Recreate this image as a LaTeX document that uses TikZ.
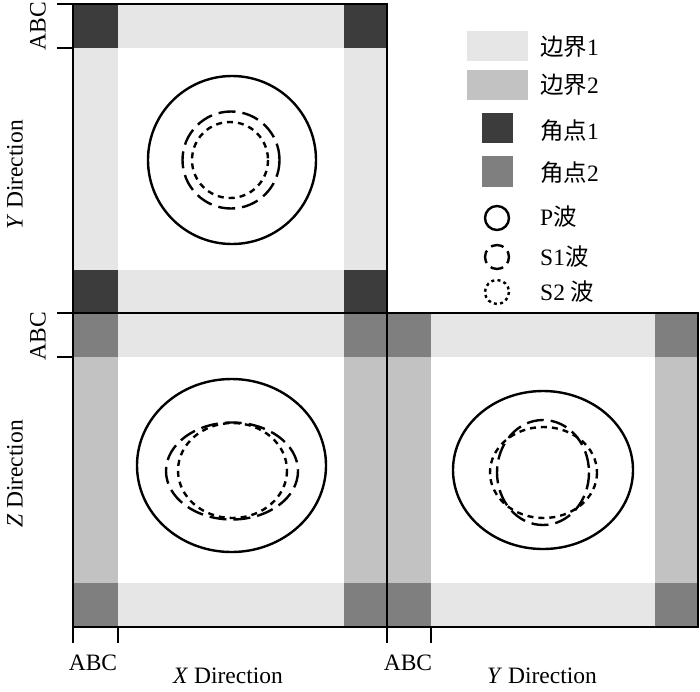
\documentclass[tikz,border=0pt]{standalone}
\usepackage{fontspec}
\setmainfont{Liberation Serif}
\newfontfamily\cjk{Noto Sans CJK SC}
\definecolor{bone}{HTML}{E6E6E6}
\definecolor{btwo}{HTML}{C2C2C2}
\definecolor{cone}{HTML}{3C3C3C}
\definecolor{ctwo}{HTML}{7F7F7F}
\begin{document}
\begin{tikzpicture}[x=1pt,y=-1pt,
  lbl/.style={font=\fontsize{23.5}{26}\selectfont, inner sep=0pt},
  frame/.style={draw=black, line width=2pt},
  tick/.style={draw=black, line width=2pt},
  pwave/.style={draw=black, line width=2.4pt},
  sone/.style={draw=black, line width=2.4pt, dash pattern=on 17pt off 7pt},
  stwo/.style={draw=black, line width=2.4pt, dash pattern=on 6pt off 5pt},
  sonel/.style={draw=black, line width=2.4pt, dash pattern=on 13pt off 5.85pt, dash phase=6.5pt},
  stwol/.style={draw=black, line width=2.4pt, dash pattern=on 3pt off 3.3pt}]
\useasboundingbox (0,0) rectangle (700,691);

% ---------- top panel (XY) ----------
\fill[white] (73,4) rectangle (387,313);
\fill[bone] (73,4) rectangle (387,48);
\fill[bone] (73,270) rectangle (387,313);
\fill[bone] (73,4) rectangle (118,313);
\fill[bone] (344,4) rectangle (387,313);
\fill[cone] (73,4) rectangle (118,48);
\fill[cone] (344,4) rectangle (387,48);
\fill[cone] (73,270) rectangle (118,313);
\fill[cone] (344,270) rectangle (387,313);
\draw[frame] (73,4) rectangle (387,313);

% ---------- bottom-left panel (XZ) ----------
\fill[white] (73,313) rectangle (387,627);
\fill[btwo] (73,313) rectangle (118,627);
\fill[btwo] (344,313) rectangle (387,627);
\fill[bone] (73,313) rectangle (387,357);
\fill[bone] (73,583) rectangle (387,627);
\fill[ctwo] (73,313) rectangle (118,357);
\fill[ctwo] (344,313) rectangle (387,357);
\fill[ctwo] (73,583) rectangle (118,627);
\fill[ctwo] (344,583) rectangle (387,627);
\draw[frame] (73,313) rectangle (387,627);

% ---------- bottom-right panel (YZ) ----------
\fill[white] (387,313) rectangle (698,627);
\fill[btwo] (387,313) rectangle (431,627);
\fill[btwo] (655,313) rectangle (698,627);
\fill[bone] (387,313) rectangle (698,357);
\fill[bone] (387,583) rectangle (698,627);
\fill[ctwo] (387,313) rectangle (431,357);
\fill[ctwo] (655,313) rectangle (698,357);
\fill[ctwo] (387,583) rectangle (431,627);
\fill[ctwo] (655,583) rectangle (698,627);
\draw[frame] (387,313) rectangle (698,627);

% ---------- wavefronts ----------
\draw[pwave] (232,160) circle (84);
\draw[sone] (231,160) circle (48.5);
\draw[stwo] (230,160) circle (38);

\draw[pwave] (231.5,465.5) ellipse (94.5 and 86.5);
\draw[sone] (232,471) ellipse (66 and 48.5);
\draw[stwo] (232.5,470.5) ellipse (54.5 and 47.5);

\draw[pwave] (543,470) ellipse (90 and 79);
\draw[sone] (543,472.5) ellipse (46 and 52.5);
\draw[stwo] (543.5,472.5) ellipse (53.5 and 45.5);

% ---------- axes ticks ----------
\coordinate (t1a) at (57,4);   \coordinate (t1b) at (73,4);
\coordinate (t2a) at (57,48);  \coordinate (t2b) at (73,48);
\coordinate (t3a) at (57,313); \coordinate (t3b) at (73,313);
\coordinate (t4a) at (57,357); \coordinate (t4b) at (73,357);
\draw[tick] (t1a) -- (t1b);
\draw[tick] (t2a) -- (t2b);
\draw[tick] (t3a) -- (t3b);
\draw[tick] (t4a) -- (t4b);
\coordinate (b1a) at (73,627);  \coordinate (b1b) at (73,643);
\coordinate (b2a) at (118,627); \coordinate (b2b) at (118,643);
\coordinate (b3a) at (387,627); \coordinate (b3b) at (387,643);
\coordinate (b4a) at (431,627); \coordinate (b4b) at (431,643);
\draw[tick] (b1a) -- (b1b);
\draw[tick] (b2a) -- (b2b);
\draw[tick] (b3a) -- (b3b);
\draw[tick] (b4a) -- (b4b);

% ---------- axis labels ----------
\node[lbl, rotate=90] (abcl1) at (38,26) {ABC};
\node[lbl, rotate=90] (abcl2) at (38,336) {ABC};
\node[lbl, rotate=90] (ydir) at (15,175) {\textit{Y} Direction};
\node[lbl, rotate=90] (zdir) at (15,474) {\textit{Z} Direction};
\node[lbl] (abcb1) at (93,663) {ABC};
\node[lbl] (abcb2) at (408,663) {ABC};
\node[lbl] (xdir) at (228,676) {\textit{X} Direction};
\node[lbl] (ydir2) at (542,676) {\textit{Y} Direction};

% ---------- legend ----------
\fill[bone] (467,31) rectangle (528,61);
\fill[btwo] (467,70) rectangle (528,100);
\fill[cone] (482,113) rectangle (513,143);
\fill[ctwo] (482,156) rectangle (513,187);
\draw[pwave] (497,218) circle (12);
\draw[sonel] (497,257) circle (12);
\draw[stwol] (497,292) circle (12);
\node[lbl, anchor=west] (lg1) at (540,47) {{\cjk 边界}1};
\node[lbl, anchor=west] (lg2) at (540,85) {{\cjk 边界}2};
\node[lbl, anchor=west] (lg3) at (540,131) {{\cjk 角点}1};
\node[lbl, anchor=west] (lg4) at (540,173) {{\cjk 角点}2};
\node[lbl, anchor=west] (lg5) at (540,217) {P{\cjk 波}};
\node[lbl, anchor=west] (lg6) at (540,257) {S1{\cjk 波}};
\node[lbl, anchor=west] (lg7) at (540,292) {S2 {\cjk 波}};
\end{tikzpicture}
\end{document}
